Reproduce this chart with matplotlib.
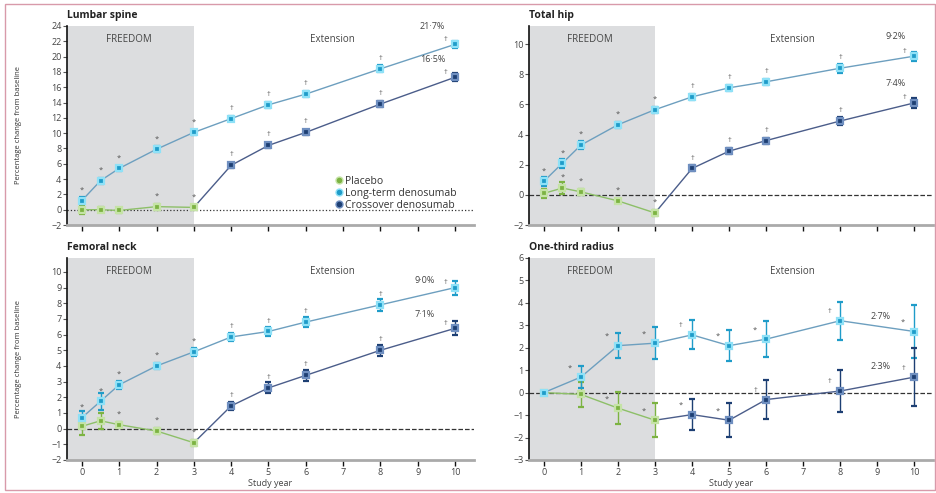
import matplotlib.pyplot as plt
from matplotlib.lines import Line2D
from matplotlib.patches import Rectangle

plt.rcParams['font.family'] = ['Open Sans', 'DejaVu Sans']

# study years
years_all = [0, 0.5, 1, 2, 3, 4, 5, 6, 8, 10]
years_freedom = [0, 0.5, 1, 2, 3]
years_ext = [4, 5, 6, 8, 10]
radius_years_all = [0, 1, 2, 3, 4, 5, 6, 8, 10]
radius_years_freedom = [0, 1, 2, 3]
xtick_labels = ['0', '1', '2', '3', '4', '5', '6', '7', '8', '9', '10']

# lumbar spine
lumbar_longterm = [1.2, 3.8, 5.4, 7.9, 10.1, 11.9, 13.7, 15.1, 18.4, 21.6]
lumbar_longterm_err = [0.4, 0.4, 0.35, 0.4, 0.35, 0.3, 0.35, 0.35, 0.45, 0.5]
lumbar_placebo = [0.0, 0.0, -0.1, 0.4, 0.3]
lumbar_placebo_err = [0.5, 0.35, 0.35, 0.4, 0.35]
lumbar_crossover = [5.8, 8.4, 10.1, 13.8, 17.3]
lumbar_crossover_err = [0.3, 0.35, 0.35, 0.4, 0.5]
lumbar_lt_marks = ['*', '*', '*', '*', '*', '†', '†', '†', '†', '†']
lumbar_pl_marks = ['', '', '', '*', '*']
lumbar_co_marks = ['†', '†', '†', '†', '†']
lumbar_final = ['21·7%', '16·5%']

# total hip
hip_longterm = [0.9, 2.1, 3.3, 4.65, 5.65, 6.5, 7.1, 7.5, 8.4, 9.2]
hip_longterm_err = [0.3, 0.3, 0.25, 0.2, 0.2, 0.2, 0.2, 0.2, 0.3, 0.3]
hip_placebo = [0.1, 0.45, 0.2, -0.4, -1.2]
hip_placebo_err = [0.3, 0.4, 0.2, 0.15, 0.2]
hip_crossover = [1.75, 2.9, 3.6, 4.9, 6.1]
hip_crossover_err = [0.2, 0.2, 0.2, 0.25, 0.35]
hip_lt_marks = ['*', '*', '*', '*', '*', '†', '†', '†', '†', '†']
hip_pl_marks = ['', '*', '*', '*', '*']
hip_co_marks = ['†', '†', '†', '†', '†']
hip_final = ['9·2%', '7·4%']

# femoral neck
neck_longterm = [0.7, 1.75, 2.8, 4.0, 4.9, 5.85, 6.2, 6.8, 7.9, 9.0]
neck_longterm_err = [0.45, 0.55, 0.25, 0.2, 0.25, 0.25, 0.3, 0.3, 0.4, 0.45]
neck_placebo = [0.15, 0.5, 0.25, -0.15, -0.9]
neck_placebo_err = [0.55, 0.5, 0.2, 0.2, 0.2]
neck_crossover = [1.45, 2.6, 3.4, 5.0, 6.4]
neck_crossover_err = [0.25, 0.35, 0.35, 0.35, 0.45]
neck_lt_marks = ['*', '*', '*', '*', '*', '†', '†', '†', '†', '†']
neck_pl_marks = ['', '', '*', '*', '*']
neck_co_marks = ['†', '†', '†', '†', '†']
neck_final = ['9·0%', '7·1%']

# one-third radius
radius_longterm = [0.0, 0.69, 2.09, 2.2, 2.57, 2.09, 2.38, 3.2, 2.72]
radius_longterm_err = [0.05, 0.5, 0.55, 0.7, 0.65, 0.68, 0.8, 0.85, 1.2]
radius_placebo = [0.0, -0.08, -0.69, -1.23]
radius_placebo_err = [0.05, 0.55, 0.7, 0.75]
radius_crossover = [-0.98, -1.23, -0.31, 0.07, 0.69]
radius_crossover_err = [0.7, 0.75, 0.85, 0.95, 1.3]
radius_lt_marks = ['', '*', '*', '*', '†', '*', '*', '†', '*']
radius_pl_marks = ['', '', '*', '*']
radius_co_marks = ['*', '*', '†', '†', '†']
radius_final = ['2·7%', '2·3%']

green, green_halo = '#7cb342', '#c5e3a6'
cyan, cyan_halo = '#1f9cc9', '#8fe1f7'
navy, navy_halo = '#1d3f73', '#6f8fc0'


def series(ax, x, y, err, col, halo, line_col, marks, off, last_off,
           start=None):
    xs, ys = list(x), list(y)
    if start is not None:
        xs, ys = [start[0]] + xs, [start[1]] + ys
    ax.plot(xs, ys, color=line_col, lw=1, zorder=3)
    ax.errorbar(x, y, yerr=err, fmt='s', ms=5, color=col, mfc=col,
                mec=halo, mew=1.6, ecolor=col, elinewidth=1, capsize=2,
                zorder=4)
    n = len(x)
    for i, (xi, yi, m) in enumerate(zip(x, y, marks)):
        if m:
            o = last_off if (i == n - 1 and xi == 10) else off
            ax.annotate(m, (xi, yi), xytext=o, textcoords='offset points',
                        ha='center', va='bottom', fontsize=5.5, color='#555')


def panel(rect, title, ylim, yticks, data, finals, final_pos, xlabels,
          ylabel, zero_style='--', off=(0, 5), last_off=(-7, 1)):
    ax = fig.add_axes(rect)
    ax.set_xlim(-0.4, 10.5)
    ax.set_ylim(*ylim)
    ax.axvspan(-0.4, 3, color='#dcdddf', zorder=0, lw=0)
    ax.axhline(0, color='#333', lw=0.9, ls=zero_style, zorder=2)
    xa, lt, lte, xf, pl, ple, co, coe, ltm, plm, com = data
    series(ax, xf, pl, ple, green, green_halo, '#8dbf68', plm, off, last_off)
    series(ax, xa, lt, lte, cyan, cyan_halo, '#6d9fbf', ltm, off, last_off)
    series(ax, years_ext, co, coe, navy, navy_halo, '#4b5d8a', com, off,
           last_off, start=(xf[-1], pl[-1]))
    for txt, pos in zip(finals, final_pos):
        ax.annotate(txt, pos, ha='center', va='bottom', fontsize=6.5,
                    color='#444')
    ax.text(1.25, ylim[1] - (ylim[1] - ylim[0]) * 0.04, 'FREEDOM',
            ha='center', va='top', fontsize=7, color='#444')
    ax.text(6.7, ylim[1] - (ylim[1] - ylim[0]) * 0.04, 'Extension',
            ha='center', va='top', fontsize=7, color='#444')
    ax.text(0, 1.025, title, transform=ax.transAxes, ha='left',
            va='bottom', fontsize=7.5, fontweight='bold', color='#222')
    for s in ['top', 'right']:
        ax.spines[s].set_visible(False)
    ax.spines['left'].set_color('#111')
    ax.spines['left'].set_linewidth(1.2)
    ax.spines['bottom'].set_color('#aaaaaa')
    ax.spines['bottom'].set_linewidth(2)
    ax.set_yticks(yticks)
    ax.set_xticks(range(11))
    ax.tick_params(axis='x', length=4, width=1, color='#111',
                   labelsize=6.5, labelcolor='#444', pad=2)
    ax.tick_params(axis='y', length=3, width=0.8, color='#555',
                   labelsize=6.5, labelcolor='#444', pad=1)
    if xlabels:
        ax.set_xticklabels(xtick_labels)
        ax.set_xlabel('Study year', fontsize=6.5, color='#444', labelpad=1)
    else:
        ax.set_xticklabels([])
    if ylabel:
        ax.set_ylabel('Percentage change from baseline', fontsize=5.5,
                      color='#333')
        ax.yaxis.set_label_coords(-0.11, 0.5)
    return ax


fig = plt.figure(figsize=(9.37, 4.93), dpi=100)
fig.patches.append(Rectangle((0.0053, 0.006), 0.9925, 0.985,
                             transform=fig.transFigure, fill=False,
                             ec='#d89aaa', lw=1))

ax1 = panel([0.0715, 0.5436, 0.434, 0.4037], 'Lumbar spine', (-2, 24),
            range(-2, 25, 2),
            (years_all, lumbar_longterm, lumbar_longterm_err, years_freedom,
             lumbar_placebo, lumbar_placebo_err, lumbar_crossover,
             lumbar_crossover_err, lumbar_lt_marks, lumbar_pl_marks,
             lumbar_co_marks),
            lumbar_final, [(9.4, 23.3), (9.4, 19.0)], False, True,
            zero_style=':')
handles = [Line2D([], [], ls='', marker='o', ms=5, color=c, mec=h, mew=1)
           for c, h in [(green, green_halo), (cyan, cyan_halo),
                        (navy, navy_halo)]]
ax1.legend(handles, ['Placebo', 'Long-term denosumab', 'Crossover denosumab'],
           loc='lower left', bbox_to_anchor=(0.645, 0.05), frameon=False,
           fontsize=7.5, handletextpad=0.1, labelspacing=0.1,
           handlelength=1, borderaxespad=0, labelcolor='#333')

panel([0.5646, 0.5436, 0.431, 0.4037], 'Total hip', (-2, 11.2),
      range(-2, 11, 2),
      (years_all, hip_longterm, hip_longterm_err, years_freedom,
       hip_placebo, hip_placebo_err, hip_crossover, hip_crossover_err,
       hip_lt_marks, hip_pl_marks, hip_co_marks),
      hip_final, [(9.5, 10.2), (9.5, 7.1)], False, False)

panel([0.0715, 0.067, 0.434, 0.41], 'Femoral neck', (-2, 10.9),
      range(-2, 11),
      (years_all, neck_longterm, neck_longterm_err, years_freedom,
       neck_placebo, neck_placebo_err, neck_crossover, neck_crossover_err,
       neck_lt_marks, neck_pl_marks, neck_co_marks),
      neck_final, [(9.2, 9.15), (9.2, 7.0)], True, True)

panel([0.5646, 0.067, 0.431, 0.41], 'One-third radius', (-3, 6),
      range(-3, 7),
      (radius_years_all, radius_longterm, radius_longterm_err,
       radius_years_freedom, radius_placebo, radius_placebo_err,
       radius_crossover, radius_crossover_err, radius_lt_marks,
       radius_pl_marks, radius_co_marks),
      radius_final, [(9.1, 3.2), (9.1, 0.95)], True, False,
      off=(-8, 4), last_off=(-8, 4))

fig.savefig('out.png', dpi=100)
